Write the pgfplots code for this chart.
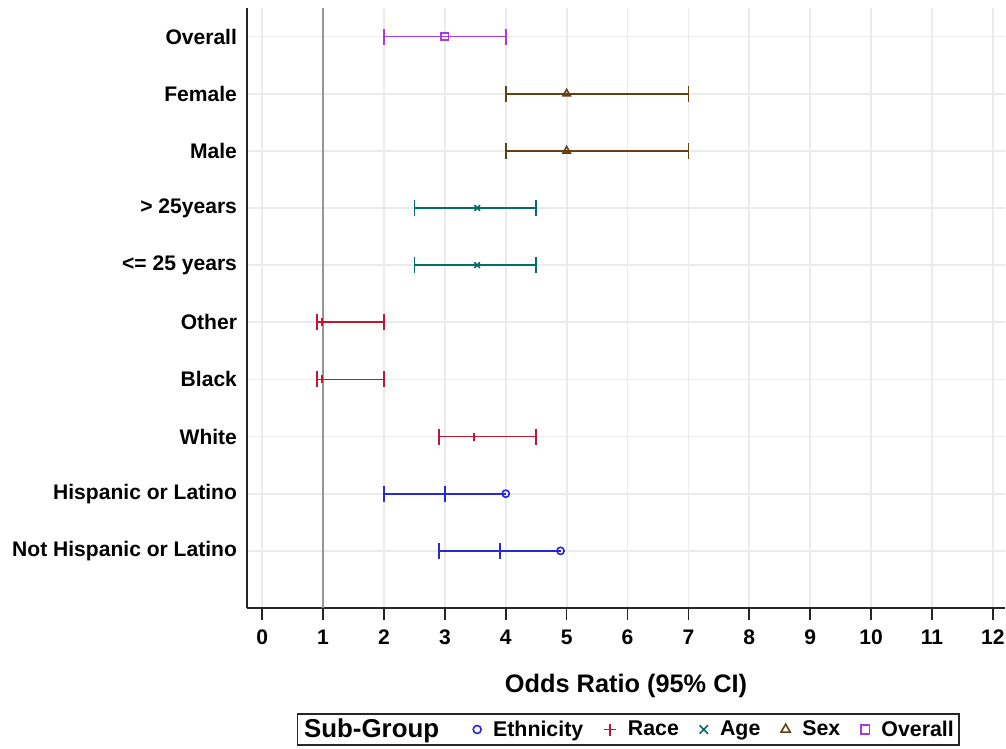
\documentclass[border=0pt]{standalone}
\usepackage{fontspec}
\setmainfont{Liberation Sans}
\usepackage{pgfplots}
\pgfplotsset{compat=1.18}
\definecolor{ceth}{RGB}{40,40,215}
\definecolor{crace}{RGB}{195,20,50}
\definecolor{cage}{RGB}{0,110,100}
\definecolor{csex}{RGB}{100,65,20}
\definecolor{call}{RGB}{165,60,230}
\definecolor{cgrid}{RGB}{235,235,235}
\definecolor{cref}{RGB}{150,150,150}
\pgfplotsset{
  cibar/.style={line width=1.3pt, only marks, forget plot,
    error bars/.cd, x dir=both, x explicit, error mark=|,
    error bar style={line width=1.3pt},
    error mark options={mark size=6pt, line width=1.3pt}},
}
\begin{document}
\begin{tikzpicture}
\begin{axis}[
  at={(0,0)}, anchor=south west,
  scale only axis, width=568.5pt, height=450pt,
  xmin=-0.25, xmax=12.2, ymin=0, ymax=10.5,
  axis x line*=bottom, axis y line*=left,
  axis line style={line width=1.4pt, draw=black!85},
  xtick={0,...,12},
  ytick={1,...,10},
  yticklabels={Not Hispanic or Latino, Hispanic or Latino, White, Black, Other, {<= 25 years}, {> 25years}, Male, Female, Overall},
  grid=major, major grid style={cgrid, line width=1.3pt},
  xtick align=outside, ytick align=inside,
  major tick length=9pt,
  xtick style={line width=1.2pt, draw=black!85},
  ytick style={draw=none},
  ticklabel style={font=\bfseries\fontsize{15.8}{18}\selectfont},
  yticklabel style={xshift=-4pt},
  xticklabel style={yshift=-4pt},
  /pgf/number format/assume math mode=true,
  xlabel={Odds Ratio (95\% CI)},
  xlabel style={font=\bfseries\fontsize{19}{22}\selectfont, yshift=-15pt},
  legend columns=-1,
  legend style={at={(0.503,-0.175)}, anchor=north, draw=black!85, line width=1.2pt,
    font=\bfseries\fontsize{16}{18}\selectfont, inner sep=2pt,
    /tikz/every even column/.append style={column sep=13.5pt},
    /tikz/every odd column/.append style={column sep=7pt}},
  legend image code/.code={\draw[#1] plot coordinates {(0pt,0pt)};},
  clip=false,
]
\addplot[cref, line width=1.6pt, forget plot] coordinates {(1,0) (1,10.5)};

% Ethnicity
\addplot[ceth, mark=o, mark size=2.7pt, mark options={fill=white, line width=1.2pt}, cibar]
  table[x=x, y=y, x error plus=ep, x error minus=em] {
x y ep em
4.9 1 -1.0 2.0
4.0 2 -1.0 2.0
};
% Race
\addplot[crace, mark=+, mark size=3pt, mark options={line width=1.2pt}, cibar]
  table[x=x, y=y, x error plus=ep, x error minus=em] {
x y ep em
3.48 3 1.02 0.58
0.98 4 1.02 0.08
0.98 5 1.02 0.08
};
% Age
\addplot[cage, mark=x, mark size=3pt, mark options={line width=1.2pt}, cibar]
  table[x=x, y=y, x error plus=ep, x error minus=em] {
x y ep em
3.53 6 0.97 1.03
3.53 7 0.97 1.03
};
% Sex
\addplot[csex, mark=triangle, mark size=3.2pt, mark options={fill=white, line width=1.2pt}, cibar]
  table[x=x, y=y, x error plus=ep, x error minus=em] {
x y ep em
5 8 2 1
5 9 2 1
};
% Overall
\addplot[call, mark=square, mark size=2.7pt, mark options={fill=white, line width=1.2pt}, cibar]
  table[x=x, y=y, x error plus=ep, x error minus=em] {
x y ep em
3 10 1 1
};

\addlegendimage{empty legend}
\addlegendentry{\kern-6pt{\fontsize{19.4}{22}\selectfont Sub-Group}\kern10pt}
\addlegendimage{ceth, mark=o, mark size=3pt, line width=1.2pt}
\addlegendentry{Ethnicity}
\addlegendimage{crace, mark=+, mark size=4.5pt, line width=1.2pt}
\addlegendentry{Race}
\addlegendimage{cage, mark=x, mark size=4.5pt, line width=1.2pt}
\addlegendentry{Age}
\addlegendimage{csex, mark=triangle, mark size=4pt, line width=1.2pt}
\addlegendentry{Sex}
\addlegendimage{call, mark=square, mark size=3.2pt, line width=1.3pt}
\addlegendentry{Overall}
\end{axis}
\pgfresetboundingbox
\path (-185.25pt,-105.75pt) rectangle (569.25pt,456pt);
\end{tikzpicture}
\end{document}
